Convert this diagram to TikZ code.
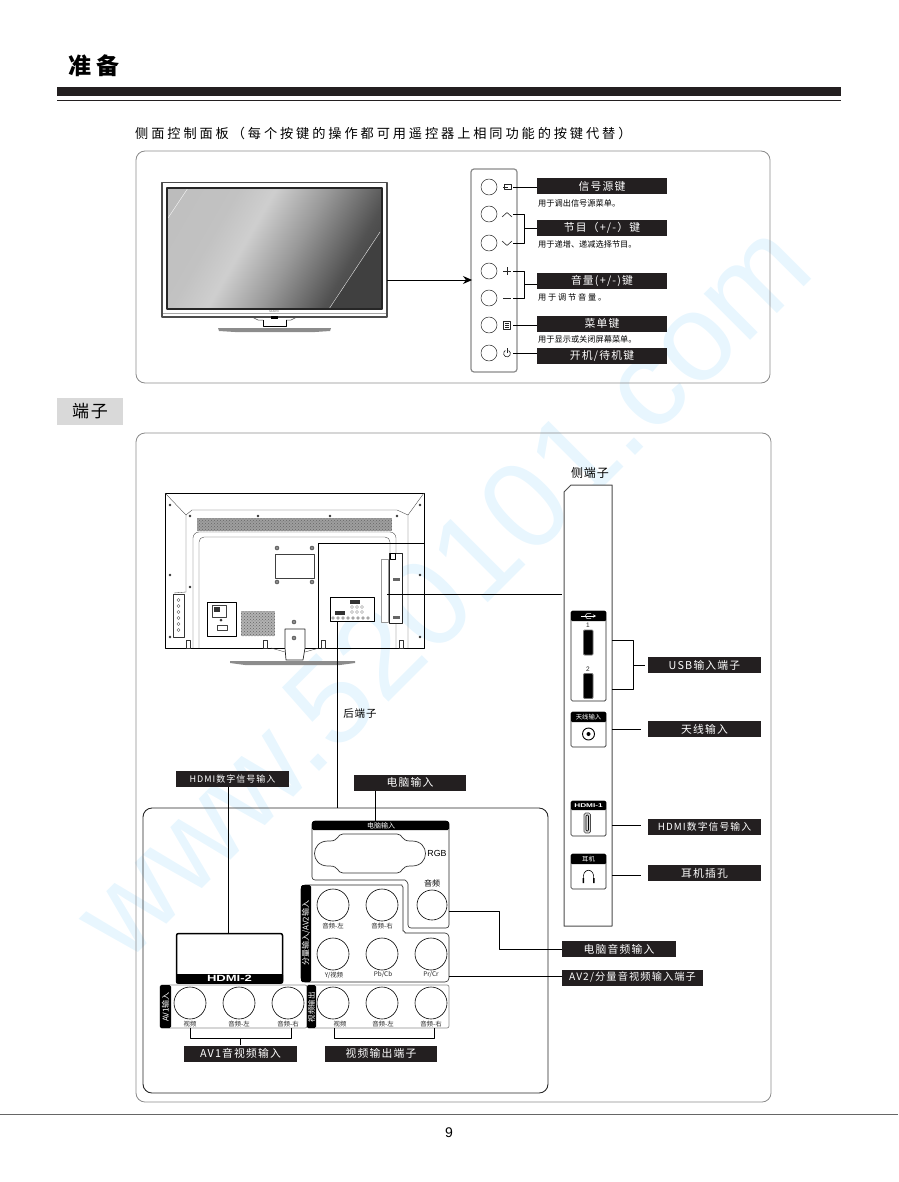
\documentclass[tikz,border=0pt]{standalone}
\usepackage{fontspec}
\usepackage{xcolor}
\usepackage{graphicx}
\usetikzlibrary{arrows.meta,patterns}
\setmainfont[LetterSpace=8]{Noto Sans CJK SC}
\newfontfamily\cjkplain{Noto Sans CJK SC}
\newfontfamily\cjkmed[LetterSpace=11]{Noto Sans CJK SC}
\newfontfamily\cjkwide[LetterSpace=22]{Noto Sans CJK SC}
\newfontfamily\latinsans{Liberation Sans}
\newfontfamily\markfont{Liberation Sans}
\newcommand{\fsz}[1]{\fontsize{#1}{#1}\selectfont}
\definecolor{labelblack}{HTML}{231F20}
\definecolor{framegray}{HTML}{8A8A8A}
\definecolor{markblue}{HTML}{E8F6FE}
\pgfdeclarehorizontalshading{tvscreen}{100bp}{color(0bp)=(black!26); color(33bp)=(black!24); color(42bp)=(black!19); color(55bp)=(black!40); color(70bp)=(black!68); color(90bp)=(black!85); color(100bp)=(black!85)}
\tikzset{
  blacklabel/.style={fill=labelblack,text=white,inner sep=0pt,minimum height=16,font=\cjkmed\fsz{10.8}},
  subtext/.style={anchor=west,inner sep=0pt,font=\cjkplain\fsz{8.2}},
  tinytext/.style={inner sep=0pt,font=\cjkplain\fsz{6.4},text=black!85},
  conline/.style={draw=black,line width=0.9},
  roundbox/.style={draw=framegray,line width=0.8,rounded corners=9pt},
  portbox/.style={draw=black!85,line width=0.7,rounded corners=1.5pt,fill=white},
  jack/.style={draw=black,line width=0.6,fill=white},
  tinyline/.style={draw=black!75,line width=0.35}
}

\begin{document}
\begin{tikzpicture}[x=1pt,y=-1pt,line join=round]
  \useasboundingbox (0,0) rectangle (898,1182);

  % watermark
  \node[rotate=45,anchor=base,text=markblue,inner sep=0pt,font=\markfont\fsz{124}] (watermark) at (472,619) {www.520101.com};

  % page-head
  \node[inner sep=0pt,font=\cjkwide\bfseries\fsz{23}] (title) at (94,66) {准备};
  \fill[labelblack] (57,87) rectangle (841,96);
  \fill[labelblack] (57,100) rectangle (841,101.5);
  \node[anchor=west,inner sep=0pt,font=\cjkwide\fsz{13.2}] (sidehead) at (135,133) {侧面控制面板（每个按键的操作都可用遥控器上相同功能的按键代替）};

  % side-panel-box
  \draw[roundbox] (136,151) rectangle (770,383);

  % front-tv
  \coordinate (tvout) at (387,280);
  \draw[draw=black!70,fill=white,line width=1.2] (162,182.5) rectangle (387,317);
  \shade[shading=tvscreen,shading angle=-30] (167,188) rectangle (382,309);
  \fill[black!27,opacity=.6] (167,188) -- (188,188) -- (168,218) -- (167,218) -- cycle;
  \fill[black!75] (382,231) -- (382,309) -- (329,309) -- cycle;
  \draw[white,line width=0.3] (168,218) -- (188,188);
  \draw[white,line width=0.3] (329,309) -- (380,232);
  \draw[black!85,line width=1.1] (167,188) rectangle (382,309);
  \draw[black!35,line width=0.5] (163,313.5) -- (386,313.5);
  \draw[black!70,line width=0.5] (252,317) -- (258,320) -- (263,320);
  \draw[black!70,line width=0.5] (297,317) -- (291,320) -- (286,320);
  \fill[black] (271,316) rectangle (278,319);
  \node[inner sep=0pt,font=\latinsans\fsz{2.8},text=black!60] (tvbrand) at (274,311.5) {SANYO};
  \draw[black,line width=0.6] (263,320) -- (263,326) -- (286,326) -- (286,320);
  \fill[black!45] (218,328) -- (331,328) -- (330,331) -- (315,332) -- (235,332) -- (219,331) -- cycle;

  % button-panel
  \draw[draw=framegray,line width=1.2,rounded corners=3pt] (471,169) rectangle (517,372);
  \foreach \btn/\yy in {bsource/187,bup/214,bdown/243,bplus/271,bminus/298,bmenu/325,bpower/353}
    \draw[black!85,line width=0.5] (489,\yy) circle [radius=8];

  \draw[-{Stealth[length=9pt,width=8pt]},black,line width=0.9] (tvout) -- (472,280);

  % button-icons
  \draw[black!85,line width=0.5] (504,184.5) rectangle (511,189.5);
  \draw[black!85,line width=0.5] (503,187) -- (508,187);
  \draw[black!85,line width=0.6] (502,217) -- (507,212.5) -- (512,217);
  \draw[black!85,line width=0.6] (502,241) -- (507,245.5) -- (512,241);
  \draw[black!85,line width=0.7] (503,271) -- (511,271);
  \draw[black!85,line width=0.7] (507,267) -- (507,275);
  \draw[black!85,line width=0.7] (503,298) -- (511,298);
  \draw[black!85,line width=0.6] (503.5,321.5) rectangle (510.5,329);
  \draw[black!85,line width=0.4] (505,323.5) -- (509,323.5) (505,325.3) -- (509,325.3) (505,327) -- (509,327);
  \coordinate (pwr) at (507,353.5);
  \draw[black!85,line width=0.6] (pwr) ++(-60:3.4) arc [start angle=-60,end angle=240,radius=3.4];
  \draw[black!85,line width=0.6] (507,348) -- (507,352.5);

  % button-labels
  \node[blacklabel,minimum width=130] (lblsource) at (602,186.5) {信号源键};
  \node[blacklabel,minimum width=130] (lblprog) at (602,228) {节目（+/-）键};
  \node[blacklabel,minimum width=130] (lblvol) at (602,280.5) {音量(+/-)键};
  \node[blacklabel,minimum width=130] (lblmenu) at (602,323.5) {菜单键};
  \node[blacklabel,minimum width=130] (lblpower) at (602,356) {开机/待机键};
  \node[subtext] (subsource) at (538,203) {用于调出信号源菜单。};
  \node[subtext] (subprog) at (538,244) {用于递增、递减选择节目。};
  \node[subtext,font=\cjkwide\fsz{8.2}] (subvol) at (538,297) {用于调节音量。};
  \node[subtext] (submenu) at (538,339.5) {用于显示或关闭屏幕菜单。};

  % button-connectors
  \coordinate (csource) at (513,187);
  \coordinate (cup) at (513,214);
  \coordinate (cdown) at (513,243);
  \coordinate (cplus) at (513,271);
  \coordinate (cminus) at (513,298);
  \coordinate (cmenu) at (513,325);
  \coordinate (cpower) at (513,353);
  \draw[conline] (csource) -- (csource -| lblsource.west);
  \draw[conline] (cup) -- (524,214) -- (524,243) -- (cdown);
  \draw[conline] (524,228) -- (lblprog.west);
  \draw[conline] (cplus) -- (524,271) -- (524,298) -- (cminus);
  \draw[conline] (524,284) -- (lblvol.west |- 0,284);
  \draw[conline] (cmenu) -- (cmenu -| lblmenu.west);
  \draw[conline] (cpower) -- (cpower -| lblpower.west);

  % terminal-head
  \node[fill=black!15,minimum width=66,minimum height=27,inner sep=0pt,font=\cjkmed\fsz{17}] (termhead) at (90,411.5) {端子};
  \draw[roundbox] (136,433) rectangle (771,1102);

  % rear-tv
  \draw[black,line width=0.8] (165,493) rectangle (424,648);
  \draw[tinyline] (165,493) -- (186,515) (424,493) -- (408,515);
  \draw[tinyline] (186,592) -- (186,515) -- (192,510) -- (397,510) -- (408,515) -- (408,648);
  \draw[tinyline] (174,593) -- (186,592);
  \fill[black!38] (197,518) rectangle (392,531);
  \fill[pattern=crosshatch dots,pattern color=black!60] (197,518) rectangle (392,531);
  \draw[tinyline,rounded corners=6pt] (193,648) -- (193,532) -- (396,532) -- (396,648);
  \draw[tinyline,rounded corners=5pt] (199,648) -- (199,537) -- (390,537) -- (390,553);
  \draw[tinyline] (275,554) rectangle (314,578);
  \foreach \xx/\yy in {170/505,190/516,258/516,330/516,397/516,420/505,170/575,420/575,190/587,170/637,420/637}
    \fill[black!80] (\xx,\yy) circle [radius=1.3];
  \foreach \xx/\yy in {277/548,312/548,277/582,312/582,294/622}
    \filldraw[draw=black!80,fill=black!45,line width=0.4] (\xx,\yy) circle [radius=2];
  \foreach \xx in {188,265,323,401}
    \filldraw[draw=black!80,fill=white,line width=0.4] (\xx-2,640) rectangle (\xx+2,648);

  % rear-ports
  \draw[black!80,fill=white,line width=0.4] (173,594) rectangle (184,637);
  \foreach \yy in {600,606,612,618,624,630}
    \draw[black!70,line width=0.3] (178.5,\yy) circle [radius=1.6];
  \draw[black,fill=white,line width=0.7] (207,602) rectangle (236,636);
  \draw[tinyline] (212,605) rectangle (226,617);
  \draw[tinyline] (217,625) rectangle (227,630);
  \fill[black!80] (214,607) rectangle (220,612);
  \fill[black!80] (221,620) circle [radius=1.5];
  \fill[black!30] (241,611) rectangle (275,636);
  \fill[pattern=crosshatch dots,pattern color=black!60] (241,611) rectangle (275,636);
  \draw[black,fill=white,line width=0.7] (330,597) rectangle (374,621);
  \fill[black!80] (350,600) rectangle (360,604);
  \fill[black!80] (335,611) rectangle (345,615);
  \foreach \xx in {351,356,361}
    \foreach \yy in {607,612}
      \draw[black!70,line width=0.3] (\xx+1,\yy) circle [radius=1.5];
  \foreach \xx in {335,340,345,350,355,360,365,370}
    \draw[black!70,line width=0.3] (\xx-2,618) circle [radius=1.4];
  \draw[draw=black!40,fill=white,line width=0.5] (381,559) rectangle (388,622);
  \draw[black!85,fill=white,line width=0.6] (389,553) rectangle (402,623);
  \draw[black,line width=0.6] (390,553) rectangle (395,559);
  \fill[black!60] (393,578) rectangle (400,581);
  \fill[black!60] (393,616) rectangle (400,619);

  % rear-stand
  \draw[black!85,fill=white,line width=0.7] (285,648) -- (285,629) -- (305,629) -- (305,648) -- (303,660) -- (286,660) -- cycle;
  \filldraw[draw=black!80,fill=black!45,line width=0.4] (294,638) circle [radius=2];
  \draw[tinyline] (271,648) -- (285,652) (319,648) -- (305,652);
  \fill[black!45] (230,661) -- (355,661) -- (355,663) -- (340,665) -- (245,665) -- (230,663) -- cycle;

  % rear-callouts
  \coordinate (rearout) at (337,621);
  \coordinate (sideout) at (387,594);
  \coordinate (frameA) at (318,648);
  \coordinate (frameB) at (424,543);
  \draw[black,line width=0.6] (frameA) -- (318,543) -- (frameB);
  \node[inner sep=0pt,font=\fsz{10.5}] (rearname) at (360,714) {后端子};

  % side-terminal
  \node[inner sep=0pt,font=\fsz{12}] (sidename) at (590,472.5) {侧端子};
  \draw[draw=black!70,fill=white,line width=1] (564,492) -- (571,485) -- (612,485) -- (612,926) -- (564,926) -- cycle;
  \coordinate (sidein) at (562,594);
  \draw[conline] (sideout) -- (sidein);

  % usb
  \draw[portbox] (571,611) rectangle (606,701);
  \fill[black,rounded corners=1pt] (571,611) rectangle (606,621);
  \draw[white,line width=0.7,-{Stealth[length=3pt,width=3pt]}] (581,616) -- (596,616);
  \draw[white,line width=0.5] (585,616) -- (587,613.5) -- (591,613.5) (585,616) -- (587,618.5) -- (591,618.5);
  \node[tinytext,font=\latinsans\fsz{6.5}] (usbA) at (588,625) {1};
  \node[tinytext,font=\latinsans\fsz{6.5}] (usbB) at (588,669) {2};
  \draw[draw=black!55,fill=black,line width=0.8,rounded corners=1pt] (583.5,630) rectangle (593,655);
  \draw[draw=black!55,fill=black,line width=0.8,rounded corners=1pt] (583.5,673.5) rectangle (593,698.5);

  % antenna
  \draw[portbox] (571,712) rectangle (606,747);
  \fill[black,rounded corners=1pt] (571,712) rectangle (606,722);
  \node[inner sep=0pt,text=white,font=\cjkplain\fsz{6.3}] (anthead) at (588.5,717) {天线输入};
  \draw[black,line width=0.9] (588.5,734) circle [radius=6];
  \fill[black] (588.5,734) circle [radius=2];

  % hdmi-1
  \draw[portbox] (571,801) rectangle (606,836);
  \fill[black,rounded corners=1pt] (571,801) rectangle (606,810);
  \node[inner sep=0pt,text=white,font=\latinsans\bfseries\fsz{5.5}] (hdmiAhead) at (588.5,805.5) {\scalebox{1.5}[1]{HDMI-1}};
  \draw[draw=black!70,fill=black!15,line width=0.7,rounded corners=1.5pt] (584,813) rectangle (590.5,833);
  \draw[black,line width=0.6,rounded corners=1pt] (586,815) rectangle (588.5,831);

  % phones
  \draw[portbox] (571,854) rectangle (606,889);
  \fill[black,rounded corners=1pt] (571,854) rectangle (606,864);
  \node[inner sep=0pt,text=white,font=\cjkplain\fsz{6.3}] (earhead) at (588.5,859) {耳机};
  \draw[black,line width=0.6] (583.5,880) .. controls (581,867) and (596,867) .. (593.5,880);
  \fill[black] (582.5,878) rectangle (584,883) (593,878) rectangle (594.5,883);

  % side-labels
  \node[blacklabel,minimum width=113] (lblusb) at (704.5,665) {USB输入端子};
  \node[blacklabel,minimum width=113] (lblant) at (704.5,729) {天线输入};
  \node[blacklabel,minimum width=113,font=\cjkmed\fsz{9.8}] (lblhdmi) at (704.5,827) {HDMI数字信号输入};
  \node[blacklabel,minimum width=113] (lblear) at (704.5,873) {耳机插孔};
  \coordinate (cusbA) at (612,640);
  \coordinate (cusbB) at (612,689);
  \coordinate (cusbC) at (645,665);
  \coordinate (cant) at (612,729);
  \coordinate (cantend) at (641,729);
  \coordinate (chdmi) at (612,825);
  \coordinate (chdmiend) at (641,825);
  \coordinate (cear) at (612,875);
  \coordinate (cearend) at (641,875);
  \draw[conline] (cusbA) -- (633,640) -- (633,689) -- (cusbB);
  \draw[conline] (633,665) -- (cusbC);
  \draw[conline] (cant) -- (cantend);
  \draw[conline] (chdmi) -- (chdmiend);
  \draw[conline] (cear) -- (cearend);

  % lower-box
  \draw[draw=black!85,line width=0.9,rounded corners=9pt] (143,808) rectangle (548,1093);
  \coordinate (lowertop) at (337,808);
  \draw[conline] (rearout) -- (lowertop);
  \node[blacklabel,minimum width=113,font=\cjkmed\fsz{9}] (lblhdmitwo) at (232.5,779) {HDMI数字信号输入};
  \node[blacklabel,minimum width=112] (lblpc) at (410,782.5) {电脑输入};
  \coordinate (cpctop) at (375,821);
  \draw[conline] (lblpc.south -| cpctop) -- (cpctop);

  % pc-input
  \draw[draw=black!85,line width=0.6,fill=white,rounded corners=3pt] (312,821) -- (312,880) -- (402,880) .. controls (406,880) and (408,883) .. (408,887) -- (408,928) -- (449,928) -- (449,821) -- cycle;
  \fill[black,rounded corners=1.5pt] (312,821) rectangle (449,830);
  \node[inner sep=0pt,text=white,font=\cjkplain\fsz{7}] (pchead) at (381,825.5) {电脑输入};
  \draw[black!80,line width=0.7] (343,834) -- (397,834) .. controls (403,834) and (401,841) .. (410,841) -- (412,841) .. controls (430,841) and (430,866) .. (412,866) -- (410,866) .. controls (401,866) and (403,873) .. (397,873) -- (343,873) .. controls (337,873) and (339,866) .. (330,866) -- (328,866) .. controls (310,866) and (310,841) .. (328,841) -- (330,841) .. controls (339,841) and (337,834) .. (343,834) -- cycle;
  \node[inner sep=0pt,font=\latinsans\fsz{8.8}] (rgbname) at (437,853.5) {RGB};
  \node[inner sep=0pt,font=\cjkplain\fsz{8}] (audioname) at (432,883.5) {音频};
  \draw[jack] (432,905) circle [radius=15];

  % component-input
  \draw[draw=black!85,line width=0.6,fill=white,rounded corners=4pt] (301,885) -- (398,885) .. controls (401,885) and (403,888) .. (403,891) -- (403,927) .. controls (403,930) and (406,933) .. (409,933) -- (449,933) -- (449,982) -- (301,982) -- cycle;
  \fill[black,rounded corners=1.5pt] (301,885) rectangle (311,982);
  \node[rotate=90,inner sep=0pt,text=white,font=\cjkplain\fsz{8}] (comphead) at (306,933) {分量输入/AV2输入};
  \foreach \xx/\yy/\jackname in {333/905/左,382/905/右}
    {\draw[jack] (\xx,\yy) circle [radius=16];
     \node[tinytext] at (\xx,\yy+21.5) {音频-\jackname};}
  \foreach \xx in {333,382,431}
    \draw[jack] (\xx,954) circle [radius=16];
  \node[tinytext] (ytext) at (334,975) {Y/视频};
  \node[tinytext] (pbtext) at (383,975) {Pb/Cb};
  \node[tinytext] (prtext) at (431,975) {Pr/Cr};

  % hdmi-2
  \draw[black,line width=1.5,fill=white,rounded corners=2pt] (176.5,933.5) rectangle (282.5,983);
  \fill[black,rounded corners=1pt] (176,974) rectangle (283,983.5);
  \node[inner sep=0pt,text=white,font=\latinsans\bfseries\fsz{9}] (hdmibhead) at (229.5,978.7) {\scalebox{1.45}[1]{HDMI-2}};
  \coordinate (hdmibtop) at (228,933);
  \draw[conline] (lblhdmitwo.south -| hdmibtop) -- (hdmibtop);

  % av1-input
  \draw[draw=framegray,line width=0.7,rounded corners=2pt] (160,985) rectangle (307,1028);
  \fill[black,rounded corners=1.5pt] (160,985) rectangle (171,1028);
  \node[rotate=90,inner sep=0pt,text=white,font=\cjkplain\fsz{8}] (avhead) at (165.5,1007) {AV1输入};
  \foreach \xx in {190,239,288}
    \draw[jack] (\xx,1003) circle [radius=16];
  \node[tinytext] (avvideo) at (190,1024) {视频};
  \node[tinytext] (avleft) at (239,1024) {音频-左};
  \node[tinytext] (avright) at (288,1024) {音频-右};

  % video-out
  \draw[draw=framegray,line width=0.7,rounded corners=2pt] (307,985) rectangle (449,1028);
  \fill[black,rounded corners=1.5pt] (307,985) rectangle (316,1028);
  \node[rotate=90,inner sep=0pt,text=white,font=\cjkplain\fsz{7.5}] (outhead) at (311.5,1007) {视频输出};
  \foreach \xx in {333,382,431}
    \draw[jack] (\xx,1003) circle [radius=16];
  \node[tinytext] (outvideo) at (340,1024) {视频};
  \node[tinytext] (outleft) at (383,1024) {音频-左};
  \node[tinytext] (outright) at (431,1024) {音频-右};

  % lower-labels
  \node[blacklabel,minimum width=113] (lblavone) at (240.5,1053.5) {AV1音视频输入};
  \node[blacklabel,minimum width=112] (lblvout) at (381,1053.5) {视频输出端子};
  \node[blacklabel,minimum width=114] (lblpcaudio) at (619,949) {电脑音频输入};
  \node[blacklabel,minimum width=141,font=\cjkmed\fsz{10.2}] (lblavtwo) at (632.5,977.5) {AV2/分量音视频输入端子};
  \coordinate (cavA) at (190,1028);
  \coordinate (cavB) at (291,1028);
  \coordinate (coutA) at (334,1028);
  \coordinate (coutB) at (434,1028);
  \coordinate (cpcaudio) at (449,911);
  \coordinate (cavtwo) at (449,976);
  \draw[conline] (cavA) -- (190,1038) -- (291,1038) -- (cavB);
  \draw[conline] (240,1038) -- (lblavone.north -| 240,0);
  \draw[conline] (coutA) -- (334,1038) -- (434,1038) -- (coutB);
  \draw[conline] (cpcaudio) -- (499,911) -- (499,949) -- (lblpcaudio.west);
  \draw[conline] (cavtwo) -- (cavtwo -| lblavtwo.west);

  % page-foot
  \draw[black!60,line width=0.8] (0,1114) -- (898,1114);
  \node[inner sep=0pt,font=\latinsans\fsz{14}] (pagenum) at (449,1133) {9};
\end{tikzpicture}
\end{document}
